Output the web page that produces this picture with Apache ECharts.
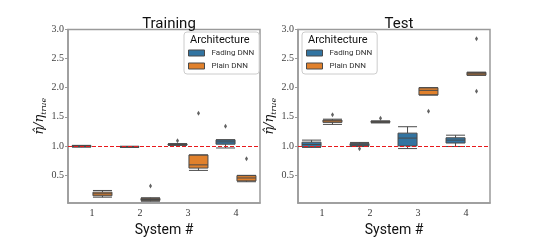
<!DOCTYPE html>
<html><head><meta charset="utf-8">
<script src="https://cdn.jsdelivr.net/npm/echarts@6/dist/echarts.min.js"></script>
<style>html,body{margin:0;padding:0;background:#fff}#c{width:545px;height:242px}</style>
</head><body><div id="c"></div>
<script>
const categories = ['1', '2', '3', '4'];
const seriesNames = ['Fading DNN', 'Plain DNN'];
const yTicks = [0.5, 1.0, 1.5, 2.0, 2.5, 3.0];
// [min, Q1, median, Q3, max]
const trainFading = [[0.98, 0.985, 0.995, 1.005, 1.01], [0.975, 0.98, 0.985, 0.99, 0.995], [1.01, 1.015, 1.025, 1.035, 1.04], [0.965, 1.03, 1.07, 1.105, 1.105]];
const trainPlain = [[0.12, 0.145, 0.178, 0.206, 0.235], [0.05, 0.065, 0.08, 0.1, 0.11], [0.58, 0.62, 0.675, 0.845, 0.845], [0.385, 0.4, 0.45, 0.49, 0.495]];
const trainFadingOut = [['3', 1.09], ['4', 1.34]];
const trainPlainOut = [['2', 0.31], ['3', 1.56], ['4', 0.78]];
const testFading = [[0.975, 0.985, 1.025, 1.065, 1.1], [0.99, 1.005, 1.02, 1.04, 1.06], [0.955, 1.0, 1.135, 1.22, 1.33], [0.99, 1.05, 1.1, 1.14, 1.185]];
const testPlain = [[1.37, 1.405, 1.43, 1.445, 1.46], [1.395, 1.405, 1.415, 1.425, 1.43], [1.875, 1.875, 1.955, 2.0, 2.0], [2.215, 2.215, 2.24, 2.265, 2.265]];
const testFadingOut = [['2', 0.95]];
const testPlainOut = [['1', 1.535], ['2', 1.475], ['3', 1.595], ['4', 2.84], ['4', 1.94]];
const refValue = 1.0;

const BLUE = '#3274a1', ORANGE = '#e1812c', EDGE = '#4a4a4a', SPINE = '#9a9a9a';
const COLORS = [BLUE, ORANGE];
const serif = 'Liberation Serif';
const sans = 'Roboto';

const chart = echarts.init(document.getElementById('c'), null, {renderer: 'canvas'});

function xAxisCfg(gi) {
  return {
    type: 'category', gridIndex: gi, data: categories,
    axisLine: {lineStyle: {color: SPINE, width: 1.5}},
    axisTick: {alignWithLabel: true, length: 3, lineStyle: {color: SPINE}},
    axisLabel: {fontFamily: serif, fontSize: 10, color: '#333', margin: 5},
    splitLine: {show: false},
    name: 'System #', nameLocation: 'middle', nameGap: 20,
    nameTextStyle: {fontFamily: sans, fontSize: 14, color: '#111'}
  };
}
function yAxisCfg(gi) {
  return {
    type: 'value', gridIndex: gi, min: 0.02, max: 3.0,
    axisLine: {show: true, lineStyle: {color: SPINE, width: 1.5}},
    axisTick: {show: true, length: 3, customValues: yTicks, lineStyle: {color: SPINE}},
    axisLabel: {customValues: yTicks, fontFamily: serif, fontSize: 10, color: '#444', margin: 4,
      formatter: v => v.toFixed(1)},
    splitLine: {show: false},
    name: '{h|η\u0302}{h|/η}{s|true}', nameLocation: 'middle', nameGap: 16,
    nameTextStyle: {
      rich: {
        h: {fontFamily: 'DejaVu Serif', fontStyle: 'italic', fontSize: 13, color: '#111', lineHeight: 18},
        s: {fontFamily: 'DejaVu Serif', fontStyle: 'italic', fontSize: 8, color: '#111', lineHeight: 18, padding: [7, 0, 0, 0]}
      }
    }
  };
}
function boxSeries(name, data, color, gi, withLine) {
  const s = {
    type: 'boxplot', name: name, xAxisIndex: gi, yAxisIndex: gi, data: data,
    boxWidth: [19, 19],
    itemStyle: {color: color, borderColor: EDGE, borderWidth: 1},
    emphasis: {disabled: true}
  };
  if (withLine) {
    s.markLine = {
      silent: true, symbol: 'none', label: {show: false},
      lineStyle: {color: '#e8191c', type: [4, 2], width: 1},
      data: [{yAxis: refValue}]
    };
  }
  return s;
}
function outSeries(name, data, gi, off) {
  return {
    type: 'scatter', name: name, xAxisIndex: gi, yAxisIndex: gi, data: data,
    symbol: 'diamond', symbolSize: [3, 5], symbolOffset: [off, 0],
    itemStyle: {color: '#3a3a3a'}, z: 5
  };
}
function legendCfg(left) {
  return {
    data: seriesNames.map((n, i) => ({name: n, itemStyle: {color: COLORS[i], borderColor: EDGE, borderWidth: 1}})),
    orient: 'vertical', left: left, top: 32,
    padding: [17, 5, 4, 4], itemWidth: 16, itemHeight: 6, itemGap: 5,
    backgroundColor: '#fff', borderColor: '#cccccc', borderWidth: 1, borderRadius: 3,
    icon: 'rect', selectedMode: false,
    textStyle: {fontFamily: sans, fontSize: 8, color: '#333', padding: [0, 0, 0, 2]}
  };
}

chart.setOption({
  animation: false,
  title: [
    {text: 'Training', left: 164, top: 12, textAlign: 'center', textStyle: {fontFamily: sans, fontSize: 15, fontWeight: 'normal', color: '#111'}},
    {text: 'Test', left: 394, top: 12, textAlign: 'center', textStyle: {fontFamily: sans, fontSize: 15, fontWeight: 'normal', color: '#111'}}
  ],
  grid: [
    {left: 68, top: 29.5, width: 192, height: 182, show: true, borderColor: SPINE, borderWidth: 1.5, backgroundColor: 'transparent'},
    {left: 298, top: 29.5, width: 192, height: 182, show: true, borderColor: SPINE, borderWidth: 1.5, backgroundColor: 'transparent'}
  ],
  xAxis: [xAxisCfg(0), xAxisCfg(1)],
  yAxis: [yAxisCfg(0), yAxisCfg(1)],
  legend: [legendCfg(184), legendCfg(302)],
  graphic: [
    {type: 'text', left: 190, top: 35, z: 100, style: {text: 'Architecture', font: '11px Roboto', fill: '#111'}},
    {type: 'text', left: 308, top: 35, z: 100, style: {text: 'Architecture', font: '11px Roboto', fill: '#111'}}
  ],
  series: [
    boxSeries('Fading DNN', trainFading, BLUE, 0, true),
    boxSeries('Plain DNN', trainPlain, ORANGE, 0, false),
    outSeries('Fading DNN outliers', trainFadingOut, 0, -10.5),
    outSeries('Plain DNN outliers', trainPlainOut, 0, 10.5),
    boxSeries('Fading DNN', testFading, BLUE, 1, true),
    boxSeries('Plain DNN', testPlain, ORANGE, 1, false),
    outSeries('Fading DNN outliers', testFadingOut, 1, -10.5),
    outSeries('Plain DNN outliers', testPlainOut, 1, 10.5)
  ]
});
</script></body></html>
